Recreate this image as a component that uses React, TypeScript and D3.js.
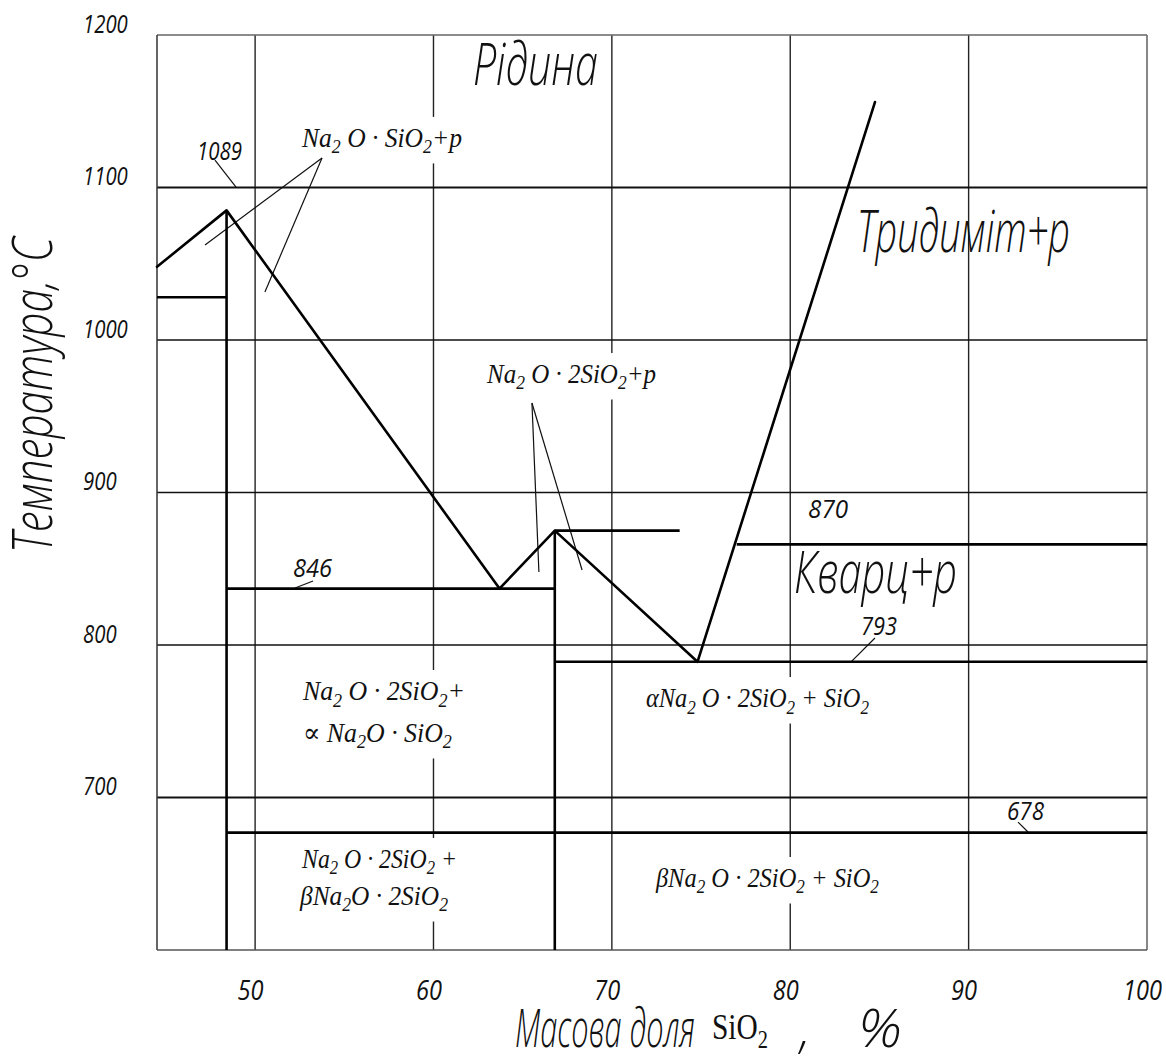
import React, { useEffect, useRef } from "react";
import * as d3 from "d3";

const W = 1166;
const H = 1057;

// axes
const xDomain = [44.5, 100];
const yDomain = [600, 1200];
const xTicks = [50, 60, 70, 80, 90, 100];
const yTicks = [700, 800, 900, 1000, 1100, 1200];
const xTitle = ["Масова доля", "SiO_2", ",", "%"];
const yTitle = "Температура,°С";

// liquidus (SiO2 %, °C)
const liquidusX = [44.5, 48.4, 63.7, 66.8, 74.8, 84.75];
const liquidusT = [1048, 1085, 837, 875, 789, 1156];

// isotherms (from %, to %, °C)
const isoFrom = [44.5, 48.4, 66.8, 77.0, 66.8, 48.4];
const isoTo = [48.4, 66.8, 73.8, 100, 100, 100];
const isoT = [1028, 837, 875, 866, 789, 677];

// compound verticals (%, top °C)
const vertX = [48.4, 66.8];
const vertTop = [1085, 875];

// temperature value labels
const valText = ["1089", "846", "870", "793", "678"];
const valX = [46.74, 52.12, 81.0, 83.97, 92.15];
const valT = [1118, 844.6, 883.3, 806.6, 685.2];

// value label leaders [x1, t1, x2, t2]
const valLeaders = [
  [47.75, 1118, 48.93, 1100.3],
  [52.24, 837.4, 53.25, 842],
  [84.75, 804.6, 83.41, 788.9],
  [92.77, 683.9, 93.33, 677.4],
];

// region names
const regionText = ["Рідина", "Тридиміт+р", "Кварц+р"];
const regionX = [62.21, 83.74, 80.21];
const regionT = [1166.9, 1057.7, 834.1];

// phase formulas (lines of text; _2 = subscript)
const formulaLines = [
  ["Na_2 O · SiO_2+p"],
  ["Na_2 O · 2SiO_2+p"],
  ["Na_2 O · 2SiO_2+", "∝ Na_2O · SiO_2"],
  ["Na_2 O · 2SiO_2 +", "βNa_2O · 2SiO_2"],
  ["αNa_2 O · 2SiO_2 + SiO_2"],
  ["βNa_2 O · 2SiO_2 + SiO_2"],
];
const formulaX = [52.63, 63.0, 52.68, 52.63, 71.91, 72.47];
const formulaT = [1126.6, 971.8, 763.9, 653.8, 759.3, 641.3];
const formulaLineStep = [0, 0, 27.5, 24.3, 0, 0];

// formula leaders [x1, t1, x2, t2]
const formulaLeaders = [
  [53.75, 1119.3, 47.19, 1062.3],
  [53.75, 1119.3, 50.55, 1031.5],
  [65.52, 958.7, 65.91, 847.9],
  [65.52, 958.7, 68.33, 849.2],
];

// rendering widths (px) for squeezing text
const regionW = [125, 213, 163];
const valW = [45, 39, 40, 36, 37];
const formulaW = [[160], [169], [162, 149], [155, 148], [223], [223]];

export default function App() {
  const ref = useRef<SVGSVGElement>(null);

  useEffect(() => {
    const svg = d3.select(ref.current);
    svg.selectAll("*").remove();

    const x = d3.scaleLinear().domain(xDomain).range([157, 1147]);
    const y = d3.scaleLinear().domain(yDomain).range([950, 35]);

    const gost = "'Open Sans', 'DejaVu Sans', sans-serif";
    const serif = "'Liberation Serif', 'DejaVu Serif', serif";

    svg.append("rect").attr("width", W).attr("height", H).attr("fill", "#fff");

    // grid
    const grid = svg.append("g");
    xTicks.forEach((v) => {
      grid.append("line")
        .attr("x1", x(v)).attr("x2", x(v))
        .attr("y1", y(yDomain[0])).attr("y2", y(yDomain[1]))
        .attr("stroke", v === 100 ? "#555" : "#222")
        .attr("stroke-width", 1.4);
    });
    yTicks.forEach((v) => {
      grid.append("line")
        .attr("x1", x(xDomain[0])).attr("x2", x(xDomain[1]))
        .attr("y1", y(v)).attr("y2", y(v))
        .attr("stroke", v === 1200 ? "#666" : "#111")
        .attr("stroke-width", v === 1100 || v === 700 ? 2 : 1.4);
    });
    grid.append("line")
      .attr("x1", x(xDomain[0])).attr("x2", x(xDomain[0]))
      .attr("y1", y(yDomain[0])).attr("y2", y(yDomain[1]))
      .attr("stroke", "#333").attr("stroke-width", 1.5);
    grid.append("line")
      .attr("x1", x(xDomain[0])).attr("x2", x(xDomain[1]))
      .attr("y1", y(yDomain[0])).attr("y2", y(yDomain[0]))
      .attr("stroke", "#555").attr("stroke-width", 1.6);

    // formula labels with white backing (break grid lines)
    const formulaLayer = svg.append("g");
    const drawFormula = (g: any, str: string, px: number, py: number, width: number, size: number) => {
      const t = g.append("text")
        .attr("x", px).attr("y", py)
        .attr("font-family", serif)
        .attr("font-style", "italic")
        .attr("font-size", size)
        .attr("fill", "#111");
      const parts = str.split(/_(\d)/);
      let sub = false;
      parts.forEach((p, i) => {
        if (i % 2 === 1) {
          t.append("tspan").attr("font-size", size * 0.7).attr("dy", size * 0.24).text(p);
          sub = true;
        } else if (p) {
          const ts = t.append("tspan").text(p);
          if (sub) ts.attr("dy", -size * 0.24);
          sub = false;
        }
      });
      t.attr("textLength", width).attr("lengthAdjust", "spacingAndGlyphs");
      return t;
    };

    formulaLines.forEach((lines, i) => {
      const g = formulaLayer.append("g");
      const rect = g.append("rect").attr("fill", "#fff");
      const texts: any[] = [];
      lines.forEach((ln, j) => {
        const t = formulaT[i] - j * formulaLineStep[i];
        texts.push(drawFormula(g, ln, x(formulaX[i]) - (j === 1 && i === 3 ? 2 : 0), y(t), formulaW[i][j], 27));
      });
      let x0 = Infinity, y0 = Infinity, x1 = -Infinity, y1 = -Infinity;
      texts.forEach((t) => {
        const b = t.node().getBBox();
        x0 = Math.min(x0, b.x); y0 = Math.min(y0, b.y);
        x1 = Math.max(x1, b.x + b.width); y1 = Math.max(y1, b.y + b.height);
      });
      const pad = 6;
      rect.attr("x", x0 - pad).attr("y", y0 - pad)
        .attr("width", x1 - x0 + 2 * pad).attr("height", y1 - y0 + 2 * pad);
    });

    // leaders
    const leaders = svg.append("g").attr("stroke", "#111").attr("stroke-width", 1.2);
    [...formulaLeaders, ...valLeaders].forEach((l) => {
      leaders.append("line")
        .attr("x1", x(l[0])).attr("y1", y(l[1]))
        .attr("x2", x(l[2])).attr("y2", y(l[3]));
    });

    // phase lines
    const phase = svg.append("g")
      .attr("stroke", "#000").attr("stroke-width", 2.6).attr("fill", "none")
      .attr("stroke-linejoin", "round").attr("stroke-linecap", "round");
    const liq = liquidusX.map((v, i) => [v, liquidusT[i]] as [number, number]);
    const line = d3.line<[number, number]>().x((d) => x(d[0])).y((d) => y(d[1]));
    phase.append("path").attr("d", line(liq) as string);
    isoT.forEach((t, i) => {
      phase.append("line")
        .attr("x1", x(isoFrom[i])).attr("x2", x(isoTo[i]))
        .attr("y1", y(t)).attr("y2", y(t))
        .attr("stroke-linecap", "butt");
    });
    vertX.forEach((v, i) => {
      phase.append("line")
        .attr("x1", x(v)).attr("x2", x(v))
        .attr("y1", y(vertTop[i])).attr("y2", y(yDomain[0]))
        .attr("stroke-linecap", "butt");
    });

    // value labels
    valText.forEach((s, i) => {
      svg.append("text")
        .attr("x", x(valX[i])).attr("y", y(valT[i]))
        .attr("font-family", gost).attr("font-style", "italic").attr("font-weight", 400)
        .attr("font-size", 25).attr("fill", "#111")
        .attr("textLength", valW[i]).attr("lengthAdjust", "spacingAndGlyphs")
        .text(s);
    });

    // region labels
    regionText.forEach((s, i) => {
      svg.append("text")
        .attr("x", x(regionX[i])).attr("y", y(regionT[i]))
        .attr("font-family", gost).attr("font-style", "italic").attr("font-weight", 300)
        .attr("font-size", 58).attr("fill", "#111")
        .attr("textLength", regionW[i]).attr("lengthAdjust", "spacingAndGlyphs")
        .text(s);
    });

    // axes
    const xAxis = svg.append("g")
      .attr("transform", `translate(0,${y(yDomain[0])})`)
      .call(d3.axisBottom(x).tickValues(xTicks).tickSize(0).tickFormat(d3.format("d")));
    xAxis.select(".domain").remove();
    xAxis.selectAll("text")
      .attr("y", 50).attr("dy", 0).attr("dx", -5)
      .attr("font-family", gost).attr("font-style", "italic").attr("font-weight", 400)
      .attr("font-size", 27).attr("fill", "#111")
      .attr("textLength", (d: any) => String(d).length * 13)
      .attr("lengthAdjust", "spacingAndGlyphs");

    const yAxis = svg.append("g")
      .attr("transform", `translate(${x(xDomain[0])},0)`)
      .call(d3.axisLeft(y).tickValues(yTicks).tickSize(0).tickFormat(d3.format("d")));
    yAxis.select(".domain").remove();
    yAxis.selectAll("text")
      .attr("x", -74).attr("dy", "-0.1em")
      .attr("text-anchor", "start")
      .attr("font-family", gost).attr("font-style", "italic").attr("font-weight", 400)
      .attr("font-size", 26).attr("fill", "#111")
      .attr("textLength", (d: any) => String(d).length * 11.2)
      .attr("lengthAdjust", "spacingAndGlyphs");

    // axis titles
    const titleText = (tx: number, s: string, len: number) =>
      svg.append("text")
        .attr("x", tx).attr("y", 1047)
        .attr("font-family", gost).attr("font-style", "italic").attr("font-weight", 300)
        .attr("font-size", 54).attr("fill", "#111")
        .attr("textLength", len).attr("lengthAdjust", "spacingAndGlyphs")
        .text(s);
    titleText(515, xTitle[0], 180);
    const parts = xTitle[1].split(/_(\d)/);
    const st = svg.append("text")
      .attr("x", 712).attr("y", 1039)
      .attr("font-family", serif).attr("font-size", 36).attr("fill", "#111");
    st.append("tspan").text(parts[0]);
    st.append("tspan").attr("font-size", 25).attr("dy", 9).text(parts[1]);
    st.attr("textLength", 56).attr("lengthAdjust", "spacingAndGlyphs");
    titleText(800, xTitle[2], 10);
    titleText(858, xTitle[3], 44);

    svg.append("text")
      .attr("transform", "translate(52,553) rotate(-90)")
      .attr("font-family", gost).attr("font-style", "italic").attr("font-weight", 300)
      .attr("font-size", 56).attr("fill", "#111")
      .attr("textLength", 316).attr("lengthAdjust", "spacingAndGlyphs")
      .text(yTitle);
  }, []);

  return (
    <svg
      ref={ref}
      width={W}
      height={H}
      style={{ position: "absolute", left: 0, top: 0, background: "#fff" }}
    />
  );
}
